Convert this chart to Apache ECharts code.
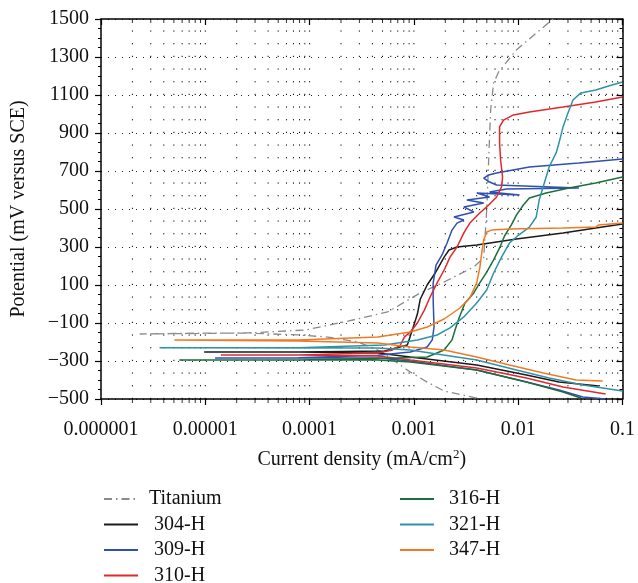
<!DOCTYPE html>
<html>
<head>
<meta charset="utf-8">
<title>Polarization curves</title>
<script src="https://cdn.jsdelivr.net/npm/echarts@6/dist/echarts.min.js"></script>
<style>
  html, body { margin: 0; padding: 0; background: #fff; }
  #chart { width: 638px; height: 583px; }
</style>
</head>
<body>
<div id="chart"></div>
<script>
// tick labels and grid positions
const xTickLabels = ['0.000001', '0.00001', '0.0001', '0.001', '0.01', '0.1'];
const gridDecades = [1e-6, 1e-5, 1e-4, 1e-3, 1e-2];
const gridSteps = [2, 3, 4, 5, 6, 7, 8, 9, 10];

const seriesNames = ['Titanium', '304-H', '309-H', '310-H', '316-H', '321-H', '347-H'];
const seriesColors = ['#8a8a8a', '#1a1a1a', '#2f50b0', '#e2282c', '#1d6e3b', '#2f93a8', '#f07a24'];

// [current density mA/cm2, potential mV] — cathodic branch then anodic branch
const titanium = [
  [4.0e-3, -495], [1.95e-3, -458], [1.34e-3, -411], [9.24e-4, -358], [6.95e-4, -311],
  [5.0e-4, -253], [2.9e-4, -200], [1.5e-4, -174], [7.8e-5, -163], [2.6e-5, -153],
  [8.7e-6, -153], [2.35e-6, -158],
  [8.7e-6, -155], [2.6e-5, -152], [9.1e-5, -137], [2.33e-4, -90], [5.58e-4, -42],
  [1.15e-3, 58], [1.95e-3, 116], [3.75e-3, 195], [4.67e-3, 242], [4.99e-3, 495],
  [5.21e-3, 758], [5.44e-3, 1021], [5.81e-3, 1163], [6.48e-3, 1221], [9.6e-3, 1337],
  [0.0149, 1426], [0.0216, 1500]
];
const h304 = [
  [0.0592, -432], [0.0246, -411], [0.012, -374], [4.0e-3, -321], [9.24e-4, -279],
  [4.5e-4, -258], [7.8e-5, -253], [9.75e-6, -253],
  [7.8e-5, -252], [5.23e-4, -247], [8.65e-4, -216], [9.66e-4, -137], [1.08e-3, -53],
  [1.15e-3, 25], [1.34e-3, 100], [1.6e-3, 163], [1.95e-3, 247], [2.17e-3, 284],
  [2.59e-3, 300], [4.0e-3, 311], [9.61e-3, 342], [0.0269, 374], [0.0554, 400], [0.1, 421]
];
const h309 = [
  [0.0689, -500], [0.0417, -489], [0.0246, -453], [0.012, -411], [4.0e-3, -347],
  [9.24e-4, -300], [4.5e-4, -284], [1.24e-5, -284],
  [7.8e-5, -283], [4.5e-4, -270], [9.24e-4, -253], [1.34e-3, -226], [1.5e-3, -189],
  [1.56e-3, -121], [1.53e-3, 21], [1.53e-3, 110], [1.63e-3, 205], [1.86e-3, 258],
  [2.08e-3, 321], [2.32e-3, 389], [2.59e-3, 426], [3.01e-3, 442], [2.42e-3, 458],
  [3.75e-3, 484], [3.01e-3, 511], [4.67e-3, 532], [3.22e-3, 547], [5.32e-3, 563],
  [4.01e-3, 584], [0.0103, 574], [5.32e-3, 589], [7.73e-3, 605], [0.0382, 611],
  [6.21e-3, 626], [5.32e-3, 642], [4.67e-3, 663], [5.21e-3, 679], [6.21e-3, 689],
  [0.0128, 721], [0.0382, 742], [0.1, 763]
];
const h310 = [
  [0.0689, -474], [0.0269, -437], [0.012, -389], [4.0e-3, -337], [9.24e-4, -295],
  [4.5e-4, -274], [7.8e-5, -268], [1.41e-5, -268],
  [7.8e-5, -268], [4.5e-4, -258], [6.23e-4, -242], [7.43e-4, -216], [8.1e-4, -174],
  [9.24e-4, -147], [1.08e-3, -100], [1.26e-3, -32], [1.43e-3, 37], [1.67e-3, 111],
  [1.95e-3, 179], [2.22e-3, 247], [2.59e-3, 300], [3.01e-3, 374], [3.44e-3, 426],
  [4.28e-3, 479], [4.99e-3, 511], [6.21e-3, 563], [6.92e-3, 616], [7.08e-3, 668],
  [6.78e-3, 758], [6.63e-3, 847], [6.63e-3, 932], [7.23e-3, 968], [9.0e-3, 995],
  [0.0128, 1011], [0.0269, 1037], [0.0554, 1063], [0.1, 1089]
];
const h316 = [
  [0.0399, -495], [0.0269, -463], [0.012, -411], [4.0e-3, -347], [9.24e-4, -305],
  [4.5e-4, -295], [7.8e-5, -295], [5.63e-6, -295],
  [7.8e-5, -295], [6.95e-4, -284], [1.34e-3, -279], [1.95e-3, -242], [2.32e-3, -189],
  [2.48e-3, -137], [2.71e-3, -74], [3.09e-3, 5], [3.75e-3, 58], [4.28e-3, 111],
  [4.99e-3, 168], [5.81e-3, 232], [6.63e-3, 295], [7.39e-3, 358], [8.6e-3, 416],
  [9.61e-3, 468], [0.0112, 521], [0.0128, 558], [0.0185, 584], [0.0307, 611],
  [0.0554, 637], [0.1, 668]
];
const h321 = [
  [0.1, -458], [0.0417, -426], [0.0198, -389], [9.61e-3, -347], [4.0e-3, -295],
  [9.24e-4, -242], [4.5e-4, -232], [3.64e-6, -230],
  [7.8e-5, -230], [5.23e-4, -216], [1.08e-3, -189], [1.67e-3, -163], [2.22e-3, -126],
  [3.01e-3, -68], [4.0e-3, 5], [4.99e-3, 74], [5.81e-3, 163], [6.92e-3, 247],
  [8.25e-3, 321], [0.0101, 363], [0.0128, 405], [0.0149, 458], [0.0159, 547],
  [0.0178, 637], [0.0198, 721], [0.0231, 795], [0.0246, 847], [0.0269, 932],
  [0.030, 1005], [0.0335, 1074], [0.0399, 1111], [0.0554, 1126], [0.0736, 1147], [0.1, 1168]
];
const h347 = [
  [0.0646, -405], [0.0358, -400], [0.0174, -363], [8.25e-3, -321], [4.0e-3, -279],
  [1.95e-3, -242], [9.24e-4, -226], [4.5e-4, -205], [7.8e-5, -195], [5.05e-6, -189],
  [7.8e-5, -189], [4.5e-4, -174], [9.24e-4, -147], [1.34e-3, -121], [1.95e-3, -79],
  [2.76e-3, -21], [3.44e-3, 32], [4.0e-3, 111], [4.28e-3, 189], [4.47e-3, 268],
  [4.67e-3, 337], [4.99e-3, 379], [5.56e-3, 389], [8.25e-3, 395], [0.0269, 400],
  [0.0554, 405], [0.0592, 416], [0.1, 426]
];
const seriesData = [titanium, h304, h309, h310, h316, h321, h347];

const FONT = 'Liberation Serif';

let gridX = [];
let minorX = [];
gridDecades.forEach(d => {
  gridSteps.forEach(s => {
    gridX.push(d * s);
    if (s < 10) minorX.push(d * s);
  });
});

let series = seriesData.map((d, i) => ({
  name: seriesNames[i],
  type: 'line',
  data: d,
  symbol: 'none',
  showSymbol: false,
  z: 5,
  lineStyle: {
    color: seriesColors[i],
    width: i === 0 ? 1.3 : 1.5,
    type: i === 0 ? [8, 4, 1.5, 4] : 'solid'
  },
  itemStyle: { color: seriesColors[i] }
}));

// dotted vertical grid at 2..10 of every decade; dots fall on rows every 200/3 mV
gridX.forEach(v => {
  series.push({
    name: 'grid',
    type: 'line',
    data: [[v, -500], [v, 1500]],
    symbol: 'none',
    silent: true,
    z: 1,
    lineStyle: { color: '#000', width: 1, type: [1.2, 11.467] }
  });
});

// minor ticks of the log axes (bottom outward, top inward)
series.push({
  name: 'minorBottom',
  type: 'scatter',
  data: minorX.map(v => [v, -500]),
  symbol: 'rect',
  symbolSize: [1, 4],
  symbolOffset: [0, 2],
  clip: false,
  silent: true,
  itemStyle: { color: '#000' }
});
series.push({
  name: 'minorTop',
  type: 'scatter',
  data: minorX.map(v => [v, 1500]),
  symbol: 'rect',
  symbolSize: [1, 4],
  symbolOffset: [0, 2],
  clip: false,
  silent: true,
  itemStyle: { color: '#000' }
});

const axisLineStyle = { color: '#000', width: 1.5 };
const legendText = { fontFamily: FONT, fontSize: 20, color: '#111', lineHeight: 20 };

let chart = echarts.init(document.getElementById('chart'));
chart.setOption({
  animation: false,
  backgroundColor: '#fff',
  grid: { left: 101, right: 11, top: 19, bottom: 184, containLabel: false },
  legend: [
    {
      data: seriesNames.slice(0, 4),
      orient: 'vertical',
      left: 103,
      top: 489,
      width: 200,
      height: 130,
      padding: 0,
      itemWidth: 34,
      itemHeight: 14,
      itemGap: 5.5,
      selectedMode: false,
      itemStyle: { opacity: 0 },
      formatter: name => (name === 'Titanium' ? name : ' ' + name),
      textStyle: Object.assign({ padding: [0, 0, 0, 6] }, legendText)
    },
    {
      data: seriesNames.slice(4),
      orient: 'vertical',
      left: 399,
      top: 489,
      width: 200,
      height: 130,
      padding: 0,
      itemWidth: 34,
      itemHeight: 14,
      itemGap: 5.5,
      selectedMode: false,
      itemStyle: { opacity: 0 },
      textStyle: Object.assign({ padding: [0, 0, 0, 10] }, legendText)
    }
  ],
  xAxis: [
    {
      type: 'log',
      logBase: 10,
      min: 1e-6,
      max: 0.1,
      position: 'bottom',
      name: 'Current density (mA/cm{s|2})',
      nameLocation: 'middle',
      nameGap: 49,
      nameTextStyle: {
        fontFamily: FONT, fontSize: 20, color: '#111',
        rich: { s: { fontFamily: FONT, fontSize: 13, color: '#111', verticalAlign: 'top', padding: [0, 0, 10, 0] } }
      },
      axisLine: { show: true, onZero: false, lineStyle: axisLineStyle },
      axisTick: { show: true, inside: false, length: 6, lineStyle: { color: '#000', width: 1.2 } },
      axisLabel: {
        margin: 21,
        fontFamily: FONT,
        fontSize: 20,
        color: '#111',
        formatter: v => xTickLabels[Math.round(Math.log10(v)) + 6]
      },
      splitLine: { show: false }
    },
    {
      type: 'log',
      logBase: 10,
      min: 1e-6,
      max: 0.1,
      position: 'top',
      axisLine: { show: true, onZero: false, lineStyle: axisLineStyle },
      axisTick: { show: true, inside: true, length: 6, lineStyle: { color: '#000', width: 1.2 } },
      axisLabel: { show: false },
      splitLine: { show: false }
    }
  ],
  yAxis: [
    {
      type: 'value',
      min: -500,
      max: 1500,
      interval: 200,
      position: 'left',
      name: 'Potential (mV versus SCE)',
      nameLocation: 'middle',
      nameGap: 72,
      nameTextStyle: { fontFamily: FONT, fontSize: 20, color: '#111' },
      axisLine: { show: true, onZero: false, lineStyle: axisLineStyle },
      axisTick: { show: true, inside: false, length: 6, lineStyle: { color: '#000', width: 1.2 } },
      minorTick: { show: true, splitNumber: 4, length: 3, lineStyle: { color: '#000', width: 1 } },
      axisLabel: {
        margin: 12,
        fontFamily: FONT,
        fontSize: 20,
        color: '#111',
        formatter: v => (v < 0 ? '\u2212' + Math.abs(v) : String(v))
      },
      splitLine: { show: true, lineStyle: { color: '#222', width: 1, type: [1, 6] } }
    },
    {
      type: 'value',
      min: -500,
      max: 1500,
      interval: 200,
      position: 'right',
      axisLine: { show: true, onZero: false, lineStyle: axisLineStyle },
      axisTick: { show: true, inside: true, length: 6, lineStyle: { color: '#000', width: 1.2 } },
      minorTick: { show: true, splitNumber: 4, length: 3, lineStyle: { color: '#000', width: 1 } },
      axisLabel: { show: false },
      splitLine: { show: false }
    }
  ],
  series: series
});
</script>
</body>
</html>
